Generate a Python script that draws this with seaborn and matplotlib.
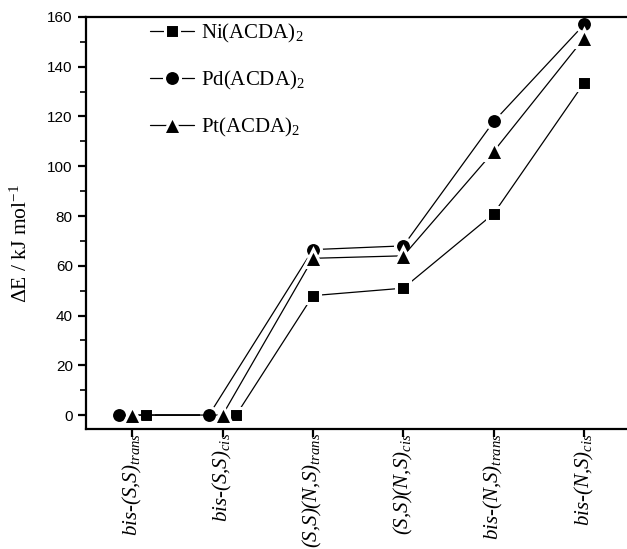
import numpy as np
import pandas as pd
import matplotlib
matplotlib.use('Agg')
import matplotlib.pyplot as plt
import seaborn as sns

# Данные
categories = [r'bis-(S,S)$_{trans}$', r'bis-(S,S)$_{cis}$',
              r'(S,S)(N,S)$_{trans}$', r'(S,S)(N,S)$_{cis}$',
              r'bis-(N,S)$_{trans}$', r'bis-(N,S)$_{cis}$']
ni_values = [0.0, 0.0, 48.0, 51.0, 81.0, 133.5]
pd_values = [0.0, 0.0, 66.5, 68.0, 118.0, 157.0]
pt_values = [0.0, 0.0, 63.0, 64.0, 106.0, 151.5]
series_names = ['Ni(ACDA)$_2$', 'Pd(ACDA)$_2$', 'Pt(ACDA)$_2$']

# стиль: маркеры, размеры и сдвиг совпадающих точек по x
markers = {'Ni(ACDA)$_2$': 's', 'Pd(ACDA)$_2$': 'o', 'Pt(ACDA)$_2$': '^'}
msizes = {'Ni(ACDA)$_2$': 10.5, 'Pd(ACDA)$_2$': 11.5, 'Pt(ACDA)$_2$': 13}
shift = {'Ni(ACDA)$_2$': 0.15, 'Pd(ACDA)$_2$': -0.15, 'Pt(ACDA)$_2$': 0.0}
n_shifted = 2

sns.set_style('ticks')
plt.rcParams['font.family'] = ['Liberation Serif', 'DejaVu Serif']
plt.rcParams['mathtext.fontset'] = 'custom'
plt.rcParams['mathtext.rm'] = 'Liberation Serif'
plt.rcParams['mathtext.it'] = 'Liberation Serif:italic'
plt.rcParams['axes.edgecolor'] = 'black'
plt.rcParams['text.color'] = 'black'
plt.rcParams['axes.labelcolor'] = 'black'
plt.rcParams['xtick.color'] = 'black'
plt.rcParams['ytick.color'] = 'black'

fig = plt.figure(figsize=(6.27, 5.49), dpi=100)
ax = fig.add_axes([0.1372, 0.2186, 0.881, 0.7505])

idx = np.arange(len(categories))
for name, vals in zip(series_names, [ni_values, pd_values, pt_values]):
    xs = idx.astype(float).copy()
    xs[:n_shifted] += shift[name]
    sns.lineplot(x=xs, y=vals, ax=ax, sort=False, color='black', lw=0.9,
                 marker=markers[name], markersize=msizes[name], mfc='black',
                 mec='white', mew=2.2, label=name)

ax.set_xlim(-0.51, 5.6)
ax.set_ylim(-5.6, 160)
ax.set_xticks(idx)
ax.set_xticklabels(categories, rotation=90, fontsize=15, fontstyle='italic',
                   va='top')
ax.set_yticks(np.arange(0, 161, 20))
ax.set_yticks(np.arange(10, 160, 20), minor=True)
for lab in ax.get_yticklabels():
    lab.set_family('Liberation Sans')
    lab.set_fontsize(11)
ax.set_ylabel('ΔE / kJ mol$^{\\mathrm{-1}}$', fontsize=15.5)
ax.yaxis.set_label_coords(-0.098, 0.449)
ax.set_xlabel('')

for s in ['left', 'bottom', 'top', 'right']:
    ax.spines[s].set_linewidth(1.6)
ax.tick_params(axis='both', which='major', direction='out', length=6,
               width=1.6)
ax.tick_params(axis='y', which='minor', direction='out', length=4, width=1.2)
ax.tick_params(axis='x', pad=-3)

ax.legend(loc='upper left', bbox_to_anchor=(150 / 627, 1 - 22 / 549),
          bbox_transform=fig.transFigure, frameon=False, fontsize=15,
          handlelength=2.1, handletextpad=0.35, labelspacing=1.15,
          borderpad=0, borderaxespad=0)

fig.savefig('out.png', dpi=100)
